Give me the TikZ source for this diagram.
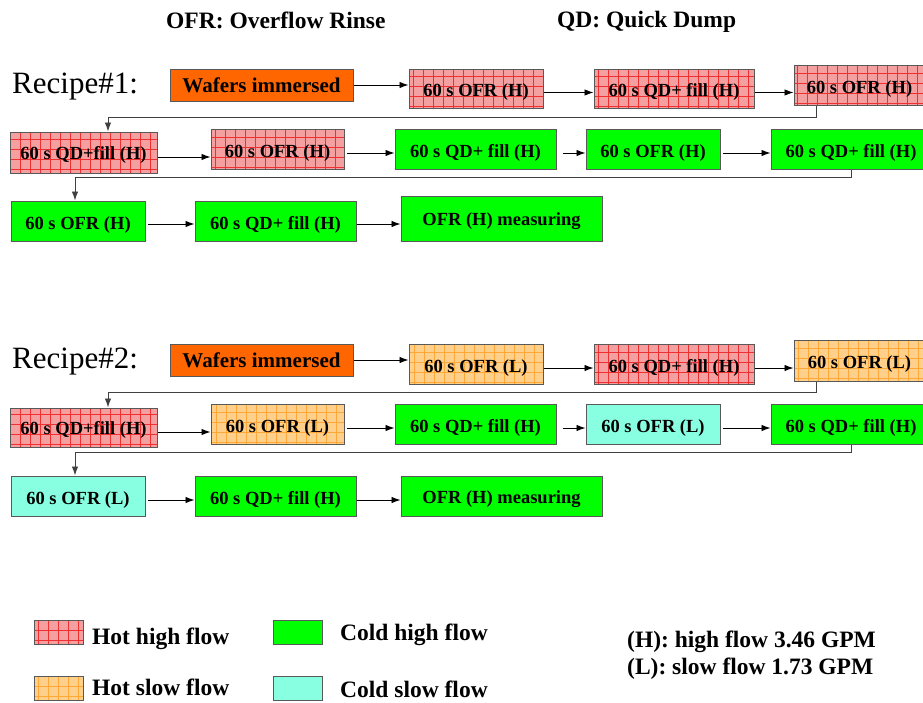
\documentclass[tikz,border=0pt]{standalone}
\usepackage{fontspec}
\setmainfont{Liberation Serif}
\usetikzlibrary{arrows.meta}

\definecolor{waferorange}{HTML}{FF6600}
\definecolor{hothigh}{HTML}{F5A0A0}
\definecolor{hothighgrid}{HTML}{F03030}
\definecolor{hotslow}{HTML}{FFD08C}
\definecolor{hotslowgrid}{HTML}{FFA838}
\definecolor{coldhigh}{HTML}{00FF00}
\definecolor{coldslow}{HTML}{88FFE0}

\begin{document}
\begin{tikzpicture}[x=1pt, y=-1pt,
  box/.style={rectangle, draw=black!65, line width=1pt, inner sep=0pt, text height=16pt, text depth=0pt,
    font=\fontsize{18.5}{20}\selectfont\bfseries},
  wh/.style 2 args={minimum width=#1pt, minimum height=#2pt},
  wafer/.style={box, fill=waferorange, text height=14pt, font=\fontsize{21}{23}\selectfont\bfseries},
  hh/.style={box, fill=hothigh,
    path picture={\draw[hothighgrid, line width=0.45pt, step=10pt] (path picture bounding box.south west) grid (path picture bounding box.north east);}},
  hs/.style={box, fill=hotslow,
    path picture={\draw[hotslowgrid, line width=0.45pt, step=10pt] (path picture bounding box.south west) grid (path picture bounding box.north east);}},
  ch/.style={box, fill=coldhigh},
  cs/.style={box, fill=coldslow},
  title/.style={inner sep=0pt, font=\fontsize{23.5}{26}\selectfont\bfseries},
  recipe/.style={inner sep=0pt, font=\fontsize{31}{34}\selectfont},
  flow/.style={-{Latex[length=9pt,width=6.5pt]}, line width=0.9pt},
  link/.style={-{Latex[length=9pt,width=6.5pt]}, line width=0.9pt, black!75}
]
\useasboundingbox (0,0) rectangle (923,702);

% Titles
\node[title, anchor=base west] (tofr) at (166,28) {OFR: Overflow Rinse};
\node[title, anchor=base west] (tqd) at (557,27) {QD: Quick Dump};

% Recipe 1
\node[recipe, anchor=base west] (rec1) at (12,93) {Recipe\#1:};
\node[wafer, wh={183}{32}] (r1a) at (261.5,85) {Wafers immersed};
\node[hh, wh={134}{39}] (r1b) at (476,88.5) {60 s OFR (H)};
\node[hh, wh={160}{39}] (r1c) at (674,88.5) {60 s QD+ fill (H)};
\node[hh, wh={131}{40}] (r1d) at (859.5,85) {60 s OFR (H)};
\node[hh, wh={147}{41}, text height=13pt] (r1e) at (83.5,152.5) {60 s QD+fill (H)};
\node[hh, wh={133}{40}] (r1f) at (277.5,149) {60 s OFR (H)};
\node[ch, wh={161}{40}] (r1g) at (475.5,149) {60 s QD+ fill (H)};
\node[ch, wh={134}{40}] (r1h) at (653,149) {60 s OFR (H)};
\node[ch, wh={160}{40}] (r1i) at (851,149) {60 s QD+ fill (H)};
\node[ch, wh={134}{40}] (r1j) at (78,221) {60 s OFR (H)};
\node[ch, wh={161}{40}] (r1k) at (275.5,221) {60 s QD+ fill (H)};
\node[ch, wh={201}{45}, text height=14pt] (r1l) at (501.5,218.5) {OFR (H) measuring};

\draw[flow] (r1a.east) -- (r1a.east -| r1b.west);
\draw[flow] ([yshift=-4pt]r1b.east) -- ([yshift=-4pt]r1b.east -| r1c.west);
\draw[flow] ([yshift=-4pt]r1c.east) -- ([yshift=-4pt]r1c.east -| r1d.west);
\draw[link] ([xshift=23pt]r1d.south west) -- ++(0,12) -| ([xshift=24.5pt]r1e.north);
\draw[flow] ([yshift=-4.5pt]r1e.east) -- ([yshift=-4.5pt]r1e.east -| r1f.west);
\draw[flow] ([xshift=2pt,yshift=-4pt]r1f.east) -- ([yshift=-4pt]r1f.east -| r1g.west);
\draw[flow] ([xshift=6pt,yshift=-4pt]r1g.east) -- ([yshift=-4pt]r1g.east -| r1h.west);
\draw[flow] ([xshift=2pt,yshift=-4pt]r1h.east) -- ([yshift=-4pt]r1h.east -| r1i.west);
\draw[link] (r1i.south) -- ++(0,8) -| ([xshift=-3pt]r1j.north);
\draw[flow] ([xshift=2pt,yshift=-3pt]r1j.east) -- ([yshift=-3pt]r1j.east -| r1k.west);
\draw[flow] ([yshift=-3pt]r1k.east) -- ([yshift=-3pt]r1k.east -| r1l.west);

% Recipe 2
\node[recipe, anchor=base west] (rec2) at (12,368) {Recipe\#2:};
\node[wafer, wh={183}{32}] (r2a) at (261.5,360) {Wafers immersed};
\node[hs, wh={134}{40}] (r2b) at (476,364) {60 s OFR (L)};
\node[hh, wh={160}{40}] (r2c) at (674,364) {60 s QD+ fill (H)};
\node[hs, wh={131}{41}] (r2d) at (859.5,360.5) {60 s OFR (L)};
\node[hh, wh={147}{39}, text height=13pt] (r2e) at (83.5,427.5) {60 s QD+fill (H)};
\node[hs, wh={133}{40}] (r2f) at (277.5,424) {60 s OFR (L)};
\node[ch, wh={161}{40}] (r2g) at (475.5,424) {60 s QD+ fill (H)};
\node[cs, wh={134}{40}] (r2h) at (653,424) {60 s OFR (L)};
\node[ch, wh={160}{40}] (r2i) at (851,424) {60 s QD+ fill (H)};
\node[cs, wh={134}{40}] (r2j) at (78,496) {60 s OFR (L)};
\node[ch, wh={161}{40}] (r2k) at (275.5,496) {60 s QD+ fill (H)};
\node[ch, wh={201}{40}, text height=15pt] (r2l) at (501.5,496) {OFR (H) measuring};

\draw[flow] (r2a.east) -- (r2a.east -| r2b.west);
\draw[flow] ([yshift=-4pt]r2b.east) -- ([yshift=-4pt]r2b.east -| r2c.west);
\draw[flow] ([yshift=-4pt]r2c.east) -- ([yshift=-4pt]r2c.east -| r2d.west);
\draw[link] ([xshift=23pt]r2d.south west) -- ++(0,11) -| ([xshift=24.5pt]r2e.north);
\draw[flow] ([yshift=-4.5pt]r2e.east) -- ([yshift=-4.5pt]r2e.east -| r2f.west);
\draw[flow] ([xshift=2pt,yshift=-4pt]r2f.east) -- ([yshift=-4pt]r2f.east -| r2g.west);
\draw[flow] ([xshift=6pt,yshift=-4pt]r2g.east) -- ([yshift=-4pt]r2g.east -| r2h.west);
\draw[flow] ([xshift=2pt,yshift=-4pt]r2h.east) -- ([yshift=-4pt]r2h.east -| r2i.west);
\draw[link] (r2i.south) -- ++(0,8) -| ([xshift=-3pt]r2j.north);
\draw[flow] ([xshift=2pt,yshift=-4pt]r2j.east) -- ([yshift=-4pt]r2j.east -| r2k.west);
\draw[flow] ([yshift=-4pt]r2k.east) -- ([yshift=-4pt]r2k.east -| r2l.west);

% Legend
\node[hh, wh={49}{24}] (lhh) at (58.5,632) {};
\node[ch, wh={49}{24}] (lch) at (297.5,632) {};
\node[hs, wh={49}{24}] (lhs) at (58.5,688) {};
\node[cs, wh={49}{24}] (lcs) at (297.5,688) {};
\node[title, anchor=base west] (thh) at (92,644) {Hot high flow};
\node[title, anchor=base west] (tch) at (340,640) {Cold high flow};
\node[title, anchor=base west] (ths) at (92,695) {Hot slow flow};
\node[title, anchor=base west] (tcs) at (340,697) {Cold slow flow};
\node[title, anchor=base west] (th) at (627,647) {(H): high flow 3.46 GPM};
\node[title, anchor=base west] (tl) at (627,674) {(L): slow flow 1.73 GPM};
\end{tikzpicture}
\end{document}
